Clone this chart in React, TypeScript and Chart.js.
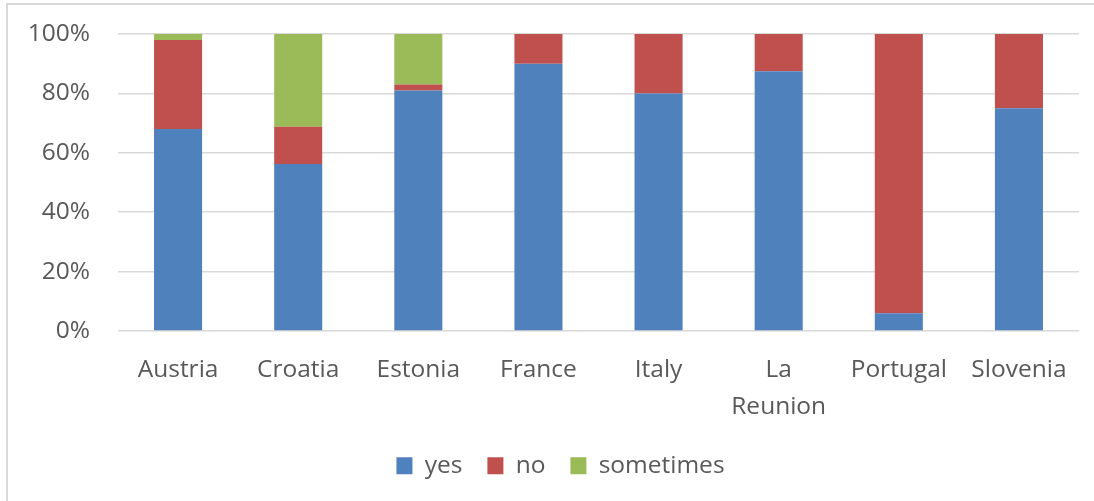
import React, { useEffect, useRef } from "react";
import { Chart, registerables } from "chart.js";

Chart.register(...registerables);

// Share of answers per country, in percent
const categories: (string | string[])[] = [
  "Austria",
  "Croatia",
  "Estonia",
  "France",
  "Italy",
  ["La", "Reunion"],
  "Portugal",
  "Slovenia",
];
const yesValues = [68, 56.25, 81, 90, 80, 87.5, 6, 75];
const noValues = [30, 12.5, 2, 10, 20, 12.5, 94, 25];
const sometimesValues = [2, 31.25, 17, 0, 0, 0, 0, 0];
const yTicks = [0, 20, 40, 60, 80, 100];

const WIDTH = 1094;
const HEIGHT = 501;
const FONT = "'Open Sans', sans-serif";
const TEXT = "#595959";
const GRID = "#d9d9d9";
const PLOT_TOP = 34;
const PLOT_BOTTOM = 331;
const PAD_BOTTOM = 13;

// Thin light-grey frame along the top and left edges of the figure
const framePlugin = {
  id: "frame",
  beforeDraw(chart: Chart) {
    const ctx = chart.ctx;
    ctx.save();
    ctx.fillStyle = "#ffffff";
    ctx.fillRect(0, 0, chart.width, chart.height);
    ctx.strokeStyle = "#d9d9d9";
    ctx.lineWidth = 2;
    ctx.beginPath();
    ctx.moveTo(7, chart.height);
    ctx.lineTo(7, 4);
    ctx.lineTo(chart.width, 4);
    ctx.stroke();
    ctx.restore();
  },
};

// Nudges the legend row to the right so it sits under the middle of the figure body
const legendShiftPlugin = {
  id: "legendShift",
  afterLayout(chart: any) {
    if (chart.legend) {
      chart.legend.left += 21;
      chart.legend.right += 21;
    }
  },
};

export default function App() {
  const canvasRef = useRef<HTMLCanvasElement | null>(null);

  useEffect(() => {
    if (!canvasRef.current) return;
    const chart = new Chart(canvasRef.current, {
      type: "bar",
      data: {
        labels: categories,
        datasets: [
          { label: "yes", data: yesValues, backgroundColor: "#4F81BD" },
          { label: "no", data: noValues, backgroundColor: "#C0504D" },
          { label: "sometimes", data: sometimesValues, backgroundColor: "#9BBB59" },
        ],
      },
      options: {
        responsive: false,
        animation: false,
        devicePixelRatio: 1,
        layout: { padding: { top: PLOT_TOP, left: 0, right: 15, bottom: PAD_BOTTOM } },
        datasets: {
          bar: { categoryPercentage: 1, barPercentage: 0.4 },
        },
        scales: {
          x: {
            stacked: true,
            grid: { display: false, drawTicks: false },
            border: { display: false },
            ticks: {
              color: TEXT,
              font: { family: FONT, size: 24.5, lineHeight: 1.5 },
              padding: 21,
              maxRotation: 0,
              autoSkip: false,
            },
            afterFit(scale: any) {
              const legendH = scale.chart.legend ? scale.chart.legend.height : 60;
              scale.height = HEIGHT - PAD_BOTTOM - legendH - PLOT_BOTTOM;
            },
          },
          y: {
            stacked: true,
            min: 0,
            max: 100,
            afterBuildTicks(scale: any) {
              scale.ticks = yTicks.map((v) => ({ value: v }));
            },
            grid: { color: GRID, lineWidth: 1.5, drawTicks: false },
            border: { display: false },
            ticks: {
              color: TEXT,
              font: { family: FONT, size: 24.5 },
              padding: 28,
              callback: (v: any) => `${v}%`,
            },
            afterFit(scale: any) {
              scale.width = 118;
              scale.paddingTop = 0;
              scale.paddingBottom = 0;
            },
          },
        },
        plugins: {
          legend: {
            position: "bottom",
            labels: {
              color: TEXT,
              font: { family: FONT, size: 24.5 },
              boxWidth: 16,
              boxHeight: 17,
              padding: 25,
            },
          },
          tooltip: { enabled: false },
        },
      },
      plugins: [framePlugin, legendShiftPlugin],
    });
    return () => chart.destroy();
  }, []);

  return (
    <div
      style={{
        position: "fixed",
        left: 0,
        top: 0,
        width: WIDTH,
        height: HEIGHT,
        background: "#fff",
      }}
    >
      <canvas
        ref={canvasRef}
        width={WIDTH}
        height={HEIGHT}
        style={{ width: WIDTH, height: HEIGHT, display: "block" }}
      />
    </div>
  );
}
